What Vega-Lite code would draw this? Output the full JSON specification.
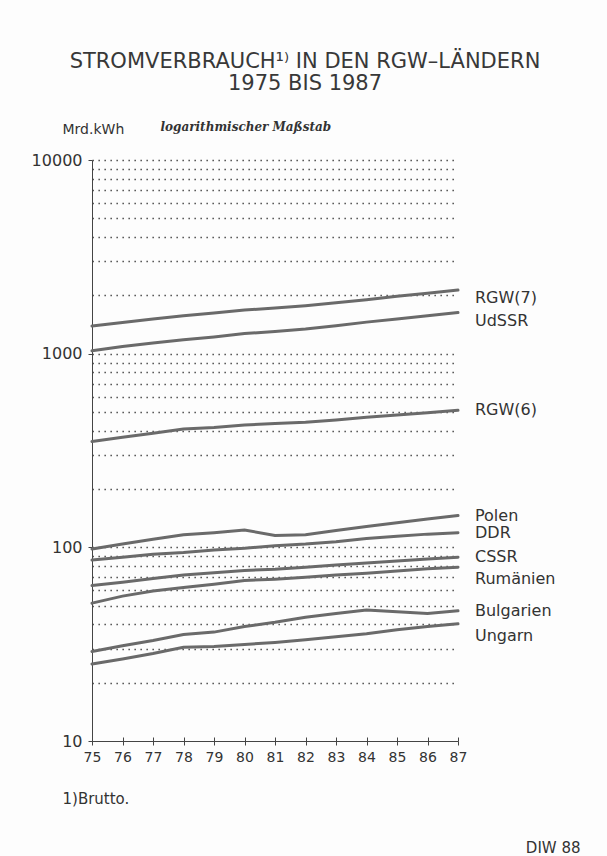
{
  "$schema": "https://vega.github.io/schema/vega-lite/v6.json",
  "width": 366,
  "height": 581,
  "autosize": {"type": "none"},
  "padding": {"left": 92, "top": 160, "right": 149, "bottom": 115},
  "background": "#fdfdfd",
  "config": {"view": {"stroke": null}, "font": "DejaVu Sans"},
  "title": {
    "text": ["STROMVERBRAUCH¹⁾ IN DEN RGW–LÄNDERN", "1975 BIS 1987"],
    "anchor": "middle",
    "frame": "group",
    "dx": 30,
    "offset": 26,
    "fontSize": 21,
    "fontWeight": "normal",
    "font": "DejaVu Sans",
    "color": "#383838",
    "lineHeight": 22
  },
  "data": {
    "values": [
      {"series": "RGW(7)", "year": 1975, "value": 1390},
      {"series": "RGW(7)", "year": 1976, "value": 1450},
      {"series": "RGW(7)", "year": 1977, "value": 1510},
      {"series": "RGW(7)", "year": 1978, "value": 1570},
      {"series": "RGW(7)", "year": 1979, "value": 1620},
      {"series": "RGW(7)", "year": 1980, "value": 1680},
      {"series": "RGW(7)", "year": 1981, "value": 1720},
      {"series": "RGW(7)", "year": 1982, "value": 1770},
      {"series": "RGW(7)", "year": 1983, "value": 1830},
      {"series": "RGW(7)", "year": 1984, "value": 1900},
      {"series": "RGW(7)", "year": 1985, "value": 1980},
      {"series": "RGW(7)", "year": 1986, "value": 2050},
      {"series": "RGW(7)", "year": 1987, "value": 2130},
      {"series": "UdSSR", "year": 1975, "value": 1035},
      {"series": "UdSSR", "year": 1976, "value": 1090},
      {"series": "UdSSR", "year": 1977, "value": 1135},
      {"series": "UdSSR", "year": 1978, "value": 1180},
      {"series": "UdSSR", "year": 1979, "value": 1220},
      {"series": "UdSSR", "year": 1980, "value": 1270},
      {"series": "UdSSR", "year": 1981, "value": 1300},
      {"series": "UdSSR", "year": 1982, "value": 1340},
      {"series": "UdSSR", "year": 1983, "value": 1395},
      {"series": "UdSSR", "year": 1984, "value": 1455},
      {"series": "UdSSR", "year": 1985, "value": 1510},
      {"series": "UdSSR", "year": 1986, "value": 1570},
      {"series": "UdSSR", "year": 1987, "value": 1630},
      {"series": "RGW(6)", "year": 1975, "value": 352},
      {"series": "RGW(6)", "year": 1976, "value": 370},
      {"series": "RGW(6)", "year": 1977, "value": 388},
      {"series": "RGW(6)", "year": 1978, "value": 408},
      {"series": "RGW(6)", "year": 1979, "value": 416},
      {"series": "RGW(6)", "year": 1980, "value": 428},
      {"series": "RGW(6)", "year": 1981, "value": 436},
      {"series": "RGW(6)", "year": 1982, "value": 442},
      {"series": "RGW(6)", "year": 1983, "value": 455},
      {"series": "RGW(6)", "year": 1984, "value": 470},
      {"series": "RGW(6)", "year": 1985, "value": 482},
      {"series": "RGW(6)", "year": 1986, "value": 496},
      {"series": "RGW(6)", "year": 1987, "value": 510},
      {"series": "Polen", "year": 1975, "value": 98},
      {"series": "Polen", "year": 1976, "value": 104},
      {"series": "Polen", "year": 1977, "value": 110},
      {"series": "Polen", "year": 1978, "value": 116},
      {"series": "Polen", "year": 1979, "value": 119},
      {"series": "Polen", "year": 1980, "value": 123},
      {"series": "Polen", "year": 1981, "value": 115},
      {"series": "Polen", "year": 1982, "value": 116},
      {"series": "Polen", "year": 1983, "value": 122},
      {"series": "Polen", "year": 1984, "value": 128},
      {"series": "Polen", "year": 1985, "value": 134},
      {"series": "Polen", "year": 1986, "value": 140},
      {"series": "Polen", "year": 1987, "value": 146},
      {"series": "DDR", "year": 1975, "value": 86},
      {"series": "DDR", "year": 1976, "value": 89},
      {"series": "DDR", "year": 1977, "value": 92},
      {"series": "DDR", "year": 1978, "value": 94},
      {"series": "DDR", "year": 1979, "value": 97},
      {"series": "DDR", "year": 1980, "value": 99},
      {"series": "DDR", "year": 1981, "value": 102},
      {"series": "DDR", "year": 1982, "value": 104},
      {"series": "DDR", "year": 1983, "value": 107},
      {"series": "DDR", "year": 1984, "value": 111},
      {"series": "DDR", "year": 1985, "value": 114},
      {"series": "DDR", "year": 1986, "value": 117},
      {"series": "DDR", "year": 1987, "value": 119},
      {"series": "CSSR", "year": 1975, "value": 63.5},
      {"series": "CSSR", "year": 1976, "value": 66},
      {"series": "CSSR", "year": 1977, "value": 69},
      {"series": "CSSR", "year": 1978, "value": 72},
      {"series": "CSSR", "year": 1979, "value": 74},
      {"series": "CSSR", "year": 1980, "value": 76},
      {"series": "CSSR", "year": 1981, "value": 77},
      {"series": "CSSR", "year": 1982, "value": 79},
      {"series": "CSSR", "year": 1983, "value": 81},
      {"series": "CSSR", "year": 1984, "value": 83},
      {"series": "CSSR", "year": 1985, "value": 85},
      {"series": "CSSR", "year": 1986, "value": 87},
      {"series": "CSSR", "year": 1987, "value": 89},
      {"series": "Rumänien", "year": 1975, "value": 51.5},
      {"series": "Rumänien", "year": 1976, "value": 56},
      {"series": "Rumänien", "year": 1977, "value": 59.5},
      {"series": "Rumänien", "year": 1978, "value": 62},
      {"series": "Rumänien", "year": 1979, "value": 64.5},
      {"series": "Rumänien", "year": 1980, "value": 67.5},
      {"series": "Rumänien", "year": 1981, "value": 68.5},
      {"series": "Rumänien", "year": 1982, "value": 70},
      {"series": "Rumänien", "year": 1983, "value": 72},
      {"series": "Rumänien", "year": 1984, "value": 73.5},
      {"series": "Rumänien", "year": 1985, "value": 75.5},
      {"series": "Rumänien", "year": 1986, "value": 77.5},
      {"series": "Rumänien", "year": 1987, "value": 79},
      {"series": "Bulgarien", "year": 1975, "value": 29},
      {"series": "Bulgarien", "year": 1976, "value": 31},
      {"series": "Bulgarien", "year": 1977, "value": 33},
      {"series": "Bulgarien", "year": 1978, "value": 35.5},
      {"series": "Bulgarien", "year": 1979, "value": 36.5},
      {"series": "Bulgarien", "year": 1980, "value": 39},
      {"series": "Bulgarien", "year": 1981, "value": 41},
      {"series": "Bulgarien", "year": 1982, "value": 43.5},
      {"series": "Bulgarien", "year": 1983, "value": 45.5},
      {"series": "Bulgarien", "year": 1984, "value": 47.5},
      {"series": "Bulgarien", "year": 1985, "value": 46.5},
      {"series": "Bulgarien", "year": 1986, "value": 45.5},
      {"series": "Bulgarien", "year": 1987, "value": 47},
      {"series": "Ungarn", "year": 1975, "value": 25},
      {"series": "Ungarn", "year": 1976, "value": 26.5},
      {"series": "Ungarn", "year": 1977, "value": 28.3},
      {"series": "Ungarn", "year": 1978, "value": 30.5},
      {"series": "Ungarn", "year": 1979, "value": 30.8},
      {"series": "Ungarn", "year": 1980, "value": 31.5},
      {"series": "Ungarn", "year": 1981, "value": 32.3},
      {"series": "Ungarn", "year": 1982, "value": 33.3},
      {"series": "Ungarn", "year": 1983, "value": 34.5},
      {"series": "Ungarn", "year": 1984, "value": 35.8},
      {"series": "Ungarn", "year": 1985, "value": 37.5},
      {"series": "Ungarn", "year": 1986, "value": 39},
      {"series": "Ungarn", "year": 1987, "value": 40.3}
    ]
  },
  "resolve": {"axis": {"x": "independent", "y": "independent"}},
  "layer": [
    {
      "mark": {"type": "line", "color": "#6a6a6a", "strokeWidth": 3, "strokeCap": "round"},
      "encoding": {
        "x": {
          "field": "year", "type": "quantitative",
          "scale": {"domain": [1975, 1987], "nice": false, "zero": false},
          "axis": {
            "orient": "bottom",
            "values": [1975, 1976, 1977, 1978, 1979, 1980, 1981, 1982, 1983, 1984, 1985, 1986, 1987],
            "format": "d",
            "labelExpr": "substring(datum.label, 2)",
            "labelFlush": false, "labelOverlap": false,
            "labelFontSize": 14, "labelColor": "#333333", "labelPadding": 5,
            "tickSize": 4, "tickColor": "#444444", "domainColor": "#444444",
            "grid": false,
            "title": "1)Brutto.", "titleX": -30, "titleY": 62, "titleAlign": "left",
            "titleBaseline": "alphabetic", "titleFontWeight": "normal", "titleFontSize": 15,
            "titleColor": "#333333"
          }
        },
        "y": {
          "field": "value", "type": "quantitative",
          "scale": {"type": "log", "domain": [10, 10000], "nice": false},
          "axis": {
            "orient": "left",
            "values": [10, 100, 1000, 10000],
            "format": "d",
            "labelFontSize": 16, "labelColor": "#333333", "labelPadding": 6,
            "tickSize": 4, "tickColor": "#444444", "domainColor": "#444444",
            "grid": false,
            "title": "Mrd.kWh", "titleAngle": 0, "titleX": -30, "titleY": -27,
            "titleAlign": "left", "titleBaseline": "alphabetic", "titleFontWeight": "normal",
            "titleFontSize": 14, "titleColor": "#333333"
          }
        },
        "detail": {"field": "series"}
      }
    },
    {
      "transform": [{"filter": "datum.year == 1987 && indexof(['RGW(6)','Polen','DDR','CSSR','Bulgarien'], datum.series) >= 0"}],
      "mark": {"type": "text", "align": "left", "baseline": "middle", "dx": 17, "fontSize": 16, "color": "#333333"},
      "encoding": {
        "x": {
          "field": "year", "type": "quantitative",
          "axis": {
            "orient": "bottom",
            "values": [1975, 1976, 1977, 1978, 1979, 1980, 1981, 1982, 1983, 1984, 1985, 1986, 1987],
            "labels": false, "domain": false, "grid": false,
            "tickSize": -4, "tickColor": "#444444",
            "title": "DIW 88", "titleX": 488, "titleY": 111, "titleAlign": "right",
            "titleBaseline": "alphabetic", "titleFontWeight": "normal", "titleFontSize": 15,
            "titleColor": "#333333"
          }
        },
        "y": {
          "field": "value", "type": "quantitative",
          "axis": {
            "orient": "left",
            "values": [20, 30, 40, 50, 60, 70, 80, 90, 100, 200, 300, 400, 500, 600, 700, 800, 900, 1000, 2000, 3000, 4000, 5000, 6000, 7000, 8000, 9000, 10000],
            "labels": false, "ticks": false, "domain": false,
            "grid": true, "gridColor": "#333333", "gridDash": [1.3, 4.7], "gridWidth": 1.3,
            "title": "logarithmischer Maßstab", "titleAngle": 0, "titleX": 68, "titleY": -30,
            "titleAlign": "left", "titleBaseline": "alphabetic", "titleFont": "DejaVu Serif",
            "titleFontStyle": "italic", "titleFontWeight": "bold", "titleFontSize": 12,
            "titleColor": "#333333"
          }
        },
        "text": {"field": "series"}
      }
    },
    {
      "transform": [{"filter": "datum.year == 1987 && indexof(['RGW(7)','UdSSR'], datum.series) >= 0"}],
      "mark": {"type": "text", "align": "left", "baseline": "middle", "dx": 17, "dy": 8, "fontSize": 16, "color": "#333333"},
      "encoding": {
        "x": {"field": "year", "type": "quantitative", "axis": null},
        "y": {"field": "value", "type": "quantitative", "axis": null},
        "text": {"field": "series"}
      }
    },
    {
      "transform": [{"filter": "datum.year == 1987 && indexof(['Rumänien','Ungarn'], datum.series) >= 0"}],
      "mark": {"type": "text", "align": "left", "baseline": "middle", "dx": 17, "dy": 12, "fontSize": 16, "color": "#333333"},
      "encoding": {
        "x": {"field": "year", "type": "quantitative", "axis": null},
        "y": {"field": "value", "type": "quantitative", "axis": null},
        "text": {"field": "series"}
      }
    }
  ]
}
